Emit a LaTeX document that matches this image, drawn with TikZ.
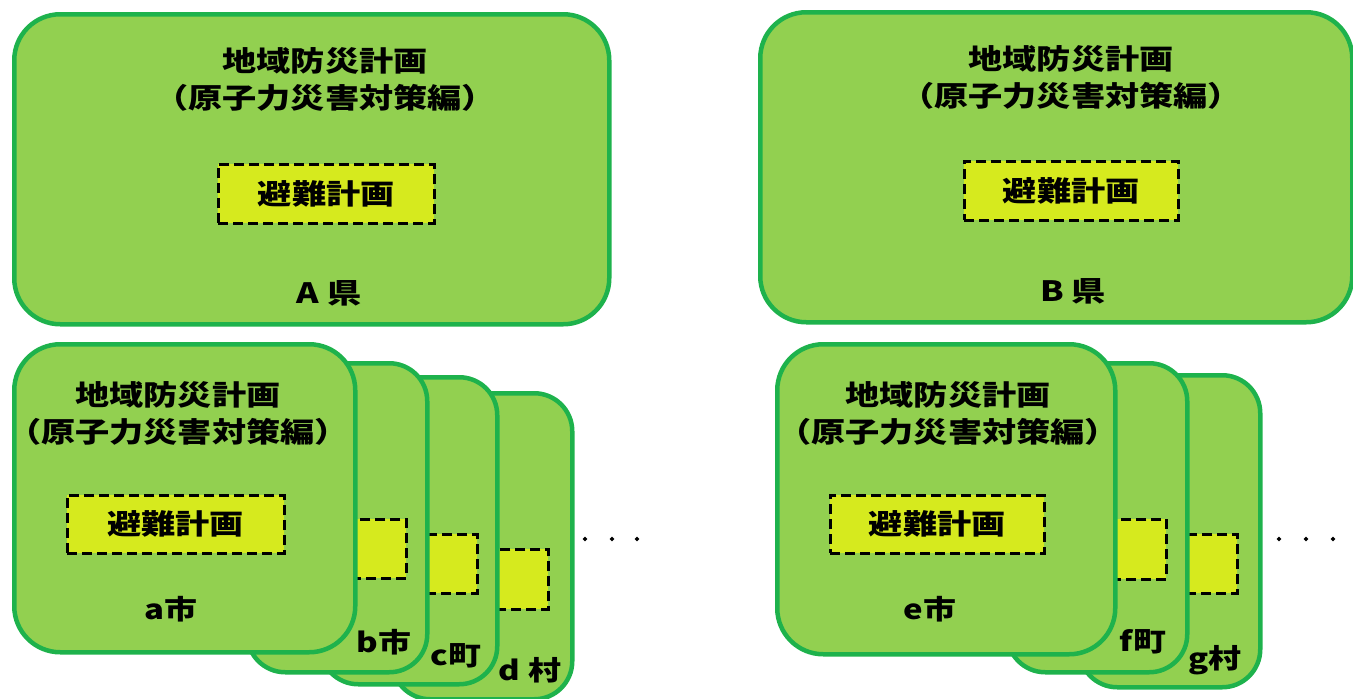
\documentclass[tikz,border=0pt]{standalone}
\usepackage{fontspec}
\newfontfamily\jp{Noto Sans CJK JP}[FakeStretch=1.22]
\definecolor{cardfill}{RGB}{146,208,80}
\definecolor{cardline}{RGB}{30,178,76}
\definecolor{planfill}{RGB}{214,234,30}
\tikzset{
  card/.style={draw=cardline, fill=cardfill, line width=4.5pt, rectangle, anchor=north west, inner sep=0pt},
  bigcard/.style={card, rounded corners=46pt},
  smallcard/.style={card, rounded corners=38pt},
  plan/.style={draw=black, fill=planfill, line width=2.6pt, dash pattern=on 10pt off 5pt, rectangle, anchor=north west, inner sep=0pt},
  ttl/.style={font=\jp\bfseries\fontsize{28}{37}\selectfont, align=center, inner sep=0pt},
  lbl/.style={font=\jp\bfseries\fontsize{27}{32}\selectfont, inner sep=0pt},
  dot/.style={diamond, fill=black, inner sep=0pt, minimum size=5pt}
}
\usetikzlibrary{shapes.geometric}
\begin{document}
\begin{tikzpicture}[x=1pt,y=-1pt]
\useasboundingbox (0,0) rectangle (1353,699);
% ---- A ken
\node[bigcard, minimum width=595pt, minimum height=310pt] (A) at (12,12) {};
\node[ttl] (Atitle) at (325,79) {地域防災計画\\（原子力災害対策編）};
\node[plan, minimum width=216pt, minimum height=59pt] (Aplan) at (217,163) {};
\node[ttl] (Aplantxt) at (Aplan.center) {避難計画};
\node[ttl] (Aname) at (329,293) {A 県};
% ---- B ken
\node[bigcard, minimum width=592pt, minimum height=310pt] (B) at (758,10) {};
\node[ttl] (Btitle) at (1071,77) {地域防災計画\\（原子力災害対策編）};
\node[plan, minimum width=214pt, minimum height=59pt] (Bplan) at (963,160) {};
\node[ttl] (Bplantxt) at (Bplan.center) {避難計画};
\node[ttl] (Bname) at (1073,291) {B 県};
% ---- bottom left stack
\node[smallcard, minimum width=180pt, minimum height=306pt] (d) at (390,391) {};
\node[plan, minimum width=67pt, minimum height=60pt] (dplan) at (480,548) {};
\node[lbl] (dname) at (530,670) {d 村};
\node[smallcard, minimum width=177pt, minimum height=307pt] (c) at (318,375) {};
\node[plan, minimum width=66pt, minimum height=59pt] (cplan) at (410,533) {};
\node[lbl] (cname) at (456,656) {c町};
\node[smallcard, minimum width=180pt, minimum height=309pt] (b) at (245,361) {};
\node[plan, minimum width=70pt, minimum height=59pt] (bplan) at (335,518) {};
\node[lbl] (bname) at (384,642) {b市};
\node[bigcard, minimum width=341pt, minimum height=308pt] (a) at (12,342) {};
\node[ttl] (atitle) at (178,413) {地域防災計画\\（原子力災害対策編）};
\node[plan, minimum width=217pt, minimum height=58pt] (aplan) at (66,494) {};
\node[ttl] (aplantxt) at (aplan.center) {避難計画};
\node[lbl] (aname) at (171,609) {a市};
\node[dot] (ld1) at (585,539) {};
\node[dot] (ld2) at (612,539) {};
\node[dot] (ld3) at (637,539) {};
% ---- bottom right stack
\node[smallcard, minimum width=181pt, minimum height=312pt] (g) at (1077,373) {};
\node[plan, minimum width=66pt, minimum height=59pt] (gplan) at (1170,533) {};
\node[lbl] (gname) at (1215,660) {g村};
\node[smallcard, minimum width=180pt, minimum height=309pt] (f) at (1005,361) {};
\node[plan, minimum width=70pt, minimum height=60pt] (fplan) at (1095,518) {};
\node[lbl] (fname) at (1143,642) {f町};
\node[bigcard, minimum width=338pt, minimum height=310pt] (e) at (775,342) {};
\node[ttl] (etitle) at (948,413) {地域防災計画\\（原子力災害対策編）};
\node[plan, minimum width=214pt, minimum height=58pt] (eplan) at (829,494) {};
\node[ttl] (eplantxt) at (eplan.center) {避難計画};
\node[lbl] (ename) at (930,609) {e市};
\node[dot] (rd1) at (1279,539) {};
\node[dot] (rd2) at (1306,539) {};
\node[dot] (rd3) at (1333,539) {};
\end{tikzpicture}
\end{document}
